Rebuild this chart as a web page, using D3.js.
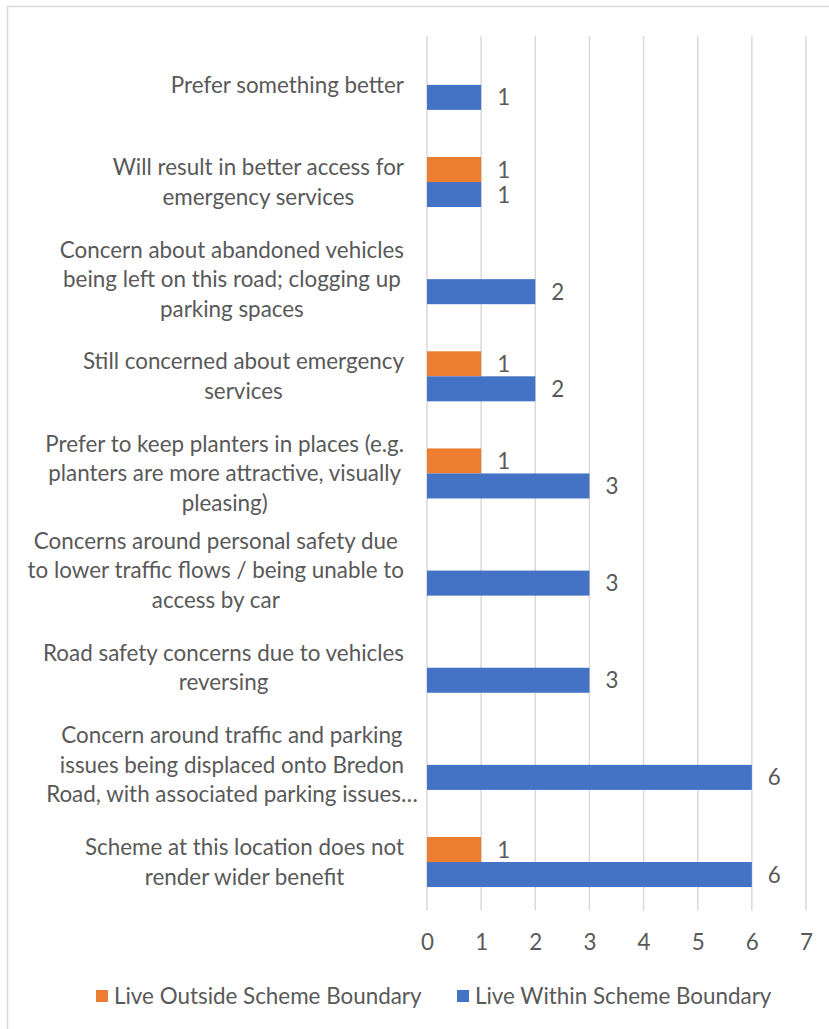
<!DOCTYPE html>
<html>
<head>
<meta charset="utf-8">
<script src="https://cdn.jsdelivr.net/npm/d3@7"></script>
<style>
  html, body { margin: 0; padding: 0; background: #fff; }
  svg { display: block; }
  text { font-family: Lato, "Open Sans", sans-serif; fill: #595959; }
</style>
</head>
<body>
<svg id="chart" width="829" height="1029"></svg>
<script>
// Category labels, top to bottom, already broken into lines
const categories = [
  ["Prefer something better"],
  ["Will result in better access for", "emergency services"],
  ["Concern about abandoned vehicles", "being left on this road; clogging up", "parking spaces"],
  ["Still concerned about emergency", "services"],
  ["Prefer to keep planters in places (e.g.", "planters are more attractive, visually", "pleasing)"],
  ["Concerns around personal safety due", "to lower traffic flows / being unable to", "access by car"],
  ["Road safety concerns due to vehicles", "reversing"],
  ["Concern around traffic and parking", "issues being displaced onto Bredon", "Road, with associated parking issues…"],
  ["Scheme at this location does not", "render wider benefit"]
];

const seriesNames = ["Live Outside Scheme Boundary", "Live Within Scheme Boundary"];
const outsideValues = [null, 1, null, 1, 1, null, null, null, 1];
const withinValues  = [1, 1, 2, 2, 3, 3, 3, 6, 6];
const xTicks = [0, 1, 2, 3, 4, 5, 6, 7];

const colors = ["#ED7D31", "#4472C4"];
const fontSize = 22.4;

const svg = d3.select("#chart");

// outer chart frame
svg.append("rect")
  .attr("x", 7.5).attr("y", 6.5)
  .attr("width", 840).attr("height", 1040)
  .attr("fill", "none").attr("stroke", "#d9d9d9").attr("stroke-width", 1.5);

const plot = { left: 427, right: 806, top: 36.3, bottom: 910.6 };

const x = d3.scaleLinear().domain([0, 7]).range([plot.left, plot.right]);
const y = d3.scaleBand()
  .domain(d3.range(categories.length))
  .range([plot.top, plot.bottom])
  .paddingInner(0.485).paddingOuter(0.2425);
const ySub = d3.scaleBand().domain([0, 1]).range([0, y.bandwidth()]);

// vertical gridlines
svg.append("g").selectAll("line")
  .data(xTicks)
  .join("line")
  .attr("x1", d => x(d)).attr("x2", d => x(d))
  .attr("y1", plot.top).attr("y2", plot.bottom)
  .attr("stroke", "#d9d9d9").attr("stroke-width", 1.5);

// x-axis tick labels
const xAxis = d3.axisBottom(x).tickValues(xTicks).tickFormat(d3.format("d"))
  .tickSize(0).tickPadding(0);
const gx = svg.append("g")
  .attr("transform", `translate(0, ${plot.bottom + 32})`)
  .call(xAxis);
gx.select(".domain").remove();
gx.selectAll("text")
  .attr("dy", "0.35em")
  .attr("y", 0)
  .style("font-family", "Lato, 'Open Sans', sans-serif")
  .style("font-size", fontSize + "px")
  .attr("fill", "#595959");

// bars
const rows = categories.map((c, i) => ({ i, vals: [outsideValues[i], withinValues[i]] }));
const series = [0, 1].map(s => rows
  .filter(r => r.vals[s] != null)
  .map(r => ({ i: r.i, s, v: r.vals[s] })));

series.forEach((data, s) => {
  const g = svg.append("g");
  g.selectAll("rect")
    .data(data)
    .join("rect")
    .attr("x", x(0))
    .attr("y", d => y(d.i) + ySub(s))
    .attr("width", d => x(d.v) - x(0))
    .attr("height", ySub.bandwidth())
    .attr("fill", colors[s]);
  g.selectAll("text")
    .data(data)
    .join("text")
    .attr("x", d => x(d.v) + 16)
    .attr("y", d => y(d.i) + ySub(s) + ySub.bandwidth() / 2)
    .attr("dy", "0.36em")
    .style("font-size", fontSize + "px")
    .text(d => d.v);
});

// category labels: each block centred on its own width, right edge near the axis
const lineH = 29.5;
const labelRight = 404;
const labelG = svg.append("g").style("font-size", fontSize + "px");
categories.forEach((lines, i) => {
  const cy = y(i) + y.bandwidth() / 2;
  const t = labelG.append("text").attr("text-anchor", "middle");
  const spans = lines.map((ln, k) => t.append("tspan")
    .attr("y", cy + (k - (lines.length - 1) / 2) * lineH)
    .attr("dy", "0.35em")
    .text(ln));
  const widths = spans.map(sp => sp.node().getComputedTextLength());
  const fit = widths.filter((w, k) => !lines[k].endsWith("…"));
  const blockW = d3.max(fit.length ? fit : widths);
  spans.forEach(sp => sp.attr("x", labelRight - blockW / 2));
});

// legend
const legend = svg.append("g").attr("transform", "translate(0, 996)");
const legendX = [96, 457];
seriesNames.forEach((name, s) => {
  legend.append("rect")
    .attr("x", legendX[s]).attr("y", -6)
    .attr("width", 12).attr("height", 12)
    .attr("fill", colors[s]);
  legend.append("text")
    .attr("x", legendX[s] + 18).attr("y", 0)
    .attr("dy", "0.35em")
    .style("font-size", fontSize + "px")
    .text(name);
});
</script>
</body>
</html>
